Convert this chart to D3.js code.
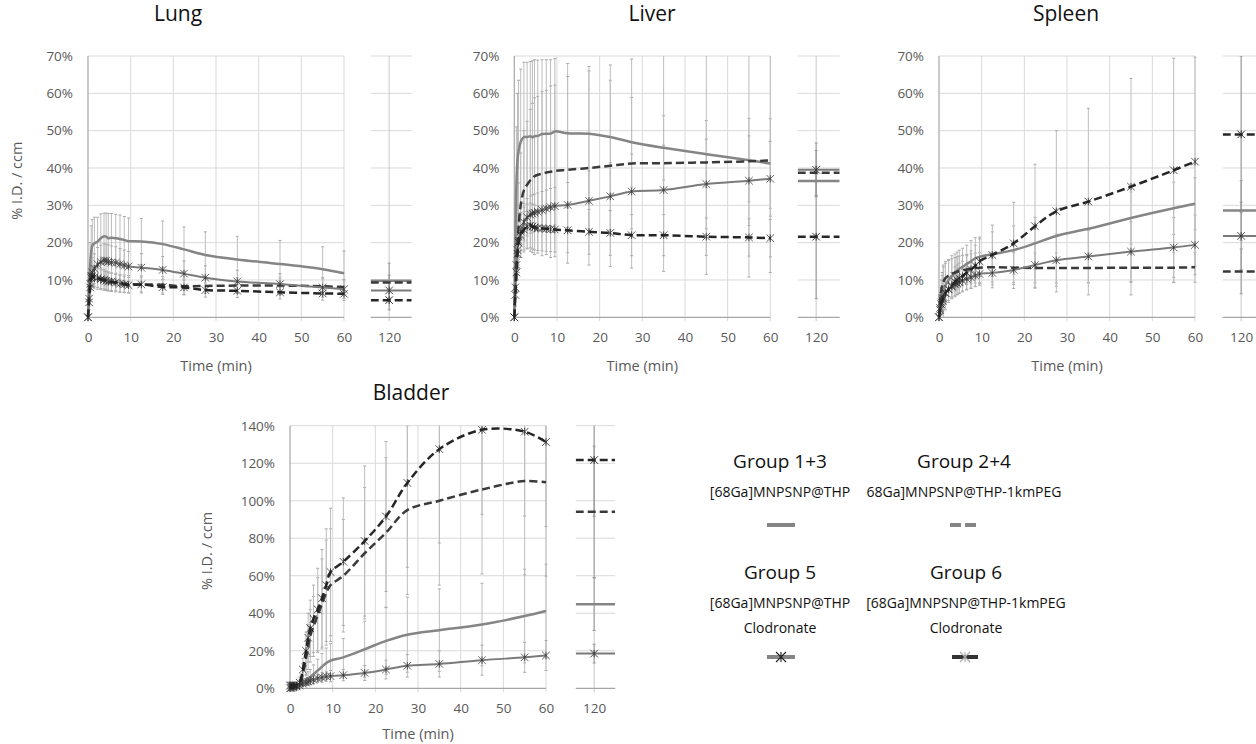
<!DOCTYPE html>
<html><head><meta charset="utf-8">
<script src="https://cdn.jsdelivr.net/npm/d3@7"></script>
<style>body{margin:0;background:#fff}svg{display:block}text{font-family:"Open Sans",sans-serif}</style>
</head><body><svg id="c" width="1256" height="744"></svg>
<script>
// ---------- DATA ----------
const times = [0, 0.25, 0.5, 0.75, 1, 1.5, 2.25, 3, 3.75, 4.25, 4.75, 5.5, 6.5, 7.5, 8.5, 9.5, 12.5, 17.5, 22.5, 27.5, 35, 45, 55, 60];
const xTicks = [0, 10, 20, 30, 40, 50, 60];
const lateTick = [120];
const topYTicks = [0, 10, 20, 30, 40, 50, 60, 70];
const bladderYTicks = [0, 20, 40, 60, 80, 100, 120, 140];
const groupNames = ["Group 1+3", "Group 2+4", "Group 5", "Group 6"];
const groupCompounds = [["[68Ga]MNPSNP@THP"], ["68Ga]MNPSNP@THP-1kmPEG"], ["[68Ga]MNPSNP@THP", "Clodronate"], ["[68Ga]MNPSNP@THP-1kmPEG", "Clodronate"]];

// Lung
const lungG13 = [0, 8, 14, 17.5, 19.2, 19.8, 20.3, 21.2, 21.7, 21.6, 21.2, 21.3, 21.2, 21.0, 20.7, 20.4, 20.3, 19.6, 18.2, 16.7, 15.5, 14.3, 12.9, 11.8];
const lungG13Err = [0, 4, 6, 7, 7, 7, 6.5, 6.5, 6.2, 6.3, 6.6, 6.5, 6.4, 6.4, 6.3, 6.2, 6.2, 6.2, 6, 6.2, 6.2, 6.3, 6, 6];
const lungG24 = [0, 6, 10, 11, 11, 10.8, 10.5, 10.2, 10, 9.8, 9.6, 9.4, 9.3, 9.1, 9.0, 8.9, 8.8, 8.7, 8.3, 8.4, 8.5, 8.5, 8.3, 8.1];
const lungG24Err = [0, 2, 3, 3, 3, 3, 3, 2.8, 2.8, 2.6, 2.6, 2.5, 2.5, 2.4, 2.4, 2.3, 2.3, 2.2, 2.2, 2.1, 2.1, 2.0, 2.0, 2.0];
const lungG5 = [0, 5, 9, 11, 12, 13, 14.2, 14.8, 15.2, 15.1, 14.9, 14.7, 14.6, 14.2, 13.9, 13.6, 13.3, 12.7, 11.7, 10.6, 9.6, 8.9, 8.0, 7.5];
const lungG5Err = [0, 2, 3, 3.5, 4, 4, 4.5, 4.5, 4.5, 4.5, 4.5, 4.4, 4.3, 4.2, 4.1, 4, 3.8, 3.6, 3.4, 3.2, 3, 2.8, 2.6, 2.5];
const lungG6 = [0, 4, 8, 10.5, 11, 10.8, 10.5, 10.2, 10, 9.8, 9.6, 9.5, 9.3, 9.0, 8.8, 8.6, 8.8, 8.1, 8.0, 7.3, 7.1, 6.7, 6.4, 6.3];
const lungG6Err = [0, 2, 2.5, 2.5, 2.5, 2.5, 2.5, 2.5, 2.4, 2.4, 2.3, 2.3, 2.2, 2.2, 2.1, 2.1, 2, 2, 2, 1.9, 1.8, 1.8, 1.8, 1.8];
const lung120 = [9.8, 9.3, 7.2, 4.6];
const lung120Err = [4.7, 2, 2.5, 2.6];

// Liver
const liverG13 = [0, 20, 36, 42, 44.5, 47, 48.3, 48.3, 48.5, 48.2, 48.5, 48.6, 49.1, 49.2, 49.2, 49.8, 49.3, 49.2, 48.3, 46.9, 45.4, 43.7, 42.1, 41.2];
const liverG13Err = [0, 10, 15, 18, 19, 19.5, 20, 20, 20, 20.5, 20.5, 20.3, 19.9, 19.8, 19.8, 19.5, 18.7, 18, 15.2, 12, 8.6, 9, 11.2, 12];
const liverG24 = [0, 8, 15, 20, 24, 30, 34, 35.5, 36.7, 37.3, 37.8, 38.2, 38.5, 38.8, 39.0, 39.2, 39.5, 40.0, 40.6, 41.2, 41.3, 41.5, 41.8, 42.0];
const liverG24Err = [0, 5, 8, 10, 12, 14, 16, 17, 19, 20, 21, 21, 22, 22, 23, 23, 25, 26, 27, 28, 29, 30, 31, 30];
const liverG5 = [0, 8, 14, 18, 20.5, 23, 25.5, 26.8, 27.5, 27.8, 28, 28.3, 28.7, 29.1, 29.5, 29.8, 30.1, 31.2, 32.4, 33.7, 34.1, 35.7, 36.6, 37.1];
const liverG5Err = [0, 3, 4, 5, 5, 5, 5, 5, 5, 5, 5, 5, 5, 5, 5, 5, 6, 8, 9, 10, 12, 12, 12, 10];
const liverG6 = [0, 6, 12, 17, 20, 22, 23.5, 24.3, 24.6, 24.3, 24.1, 23.9, 23.8, 23.7, 23.6, 23.5, 23.3, 22.9, 22.6, 22.0, 22.0, 21.6, 21.4, 21.2];
const liverG6Err = [0, 3, 4, 5, 6, 6, 6, 6, 6, 6, 6, 6, 6, 6, 6, 6, 6, 6, 6, 5.5, 5.5, 5, 5, 5];
const liver120 = [36.5, 38.7, 39.5, 21.6];
const liver120Err = [4, 6, 7.2, 16.6];

// Spleen
const spleenG13 = [0, 3, 5, 6.2, 7, 8.5, 10, 11, 12, 12.5, 13, 13.5, 14.3, 15, 15.8, 16.2, 16.9, 18, 19.8, 21.8, 23.7, 26.6, 29.2, 30.4];
const spleenG13Err = [0, 2, 3, 5, 7, 6.5, 5.5, 5.5, 5, 5, 5, 5, 5, 5.5, 5.5, 5.3, 6, 6.5, 7, 7, 7, 7, 7, 7];
const spleenG24 = [0, 4, 7, 8.5, 9.5, 10.5, 11.2, 11.7, 12, 12.2, 12.4, 12.6, 12.8, 13, 13.2, 13.3, 13.4, 13.3, 13.2, 13.2, 13.2, 13.3, 13.3, 13.4];
const spleenG24Err = [0, 2, 3, 3.5, 4, 4, 4, 4, 4, 4, 4, 4, 4, 4, 4, 4, 4, 4, 4, 4, 4, 4, 4, 4];
const spleenG5 = [0, 2.5, 4, 5, 5.5, 6.5, 7.5, 8.2, 8.8, 9.1, 9.4, 9.8, 10.3, 10.7, 11.2, 11.6, 11.9, 12.7, 14.0, 15.3, 16.3, 17.6, 18.7, 19.4];
const spleenG5Err = [0, 1, 2, 2.5, 3, 3, 3, 3, 3, 3, 3, 3, 3, 3, 3, 3, 4, 5, 6, 7, 7, 8, 8, 8];
const spleenG6 = [0, 2, 3.5, 4.5, 5, 6.5, 7.5, 8.5, 9.5, 10, 10.5, 11, 12, 12.8, 13.8, 15, 16.7, 19.8, 24.4, 28.4, 31, 35, 39.4, 41.7];
const spleenG6Err = [0, 1, 2, 2.5, 3, 3, 3.5, 3.5, 4, 4, 4, 4, 4.5, 5, 5.5, 6, 8, 11, 16.6, 21.6, 25, 29, 30, 28];
const spleen120 = [28.6, 12.3, 21.8, 49];
const spleen120Err = [8, 6, 9, 21];

// Bladder
const bladderG13 = [0, 0.2, 0.4, 0.6, 0.8, 1, 1.5, 3, 4.5, 5.3, 6, 7.5, 9.5, 11.5, 13.5, 14.8, 16.5, 20.8, 25.3, 28.6, 31, 34, 38.5, 41.2];
const bladderG13Err = [0, 0.2, 0.3, 0.4, 0.5, 0.8, 1, 2, 3, 3.5, 4, 5, 6, 7, 8, 9, 10, 15, 18, 20, 22, 22, 25, 25];
const bladderG24 = [1.5, 1.5, 1.5, 1.5, 1.5, 1.5, 2, 8, 16, 22, 28, 33, 39, 45, 51, 55, 60, 72, 83, 95, 100, 106, 110.5, 109.8];
const bladderG24Err = [0.5, 0.5, 0.5, 0.5, 0.5, 1, 2, 5, 9, 12, 14, 16, 20, 24, 28, 30, 30, 35, 40, 45, 45, 45, 50, 50];
const bladderG5 = [0, 0.2, 0.4, 0.6, 0.8, 1, 1.5, 2.5, 3, 3.5, 4, 4.5, 5.3, 5.8, 6.3, 6.5, 7, 8.2, 10, 12, 13, 15, 16.5, 17.5];
const bladderG5Err = [0, 0.2, 0.3, 0.4, 0.5, 0.6, 0.8, 1, 1.5, 1.5, 2, 2, 2, 2.5, 2.5, 3, 3, 4, 5, 6, 7, 8, 8, 8];
const bladderG6 = [1.5, 1.5, 1.5, 1.5, 1.5, 1.5, 3, 10, 20, 27, 32, 37, 42, 48, 55, 62, 67.5, 78.5, 91.6, 109.5, 127.5, 137.8, 136.8, 131.3];
const bladderG6Err = [0.5, 0.5, 0.5, 0.5, 0.5, 1, 3, 6, 10, 13, 15, 18, 22, 26, 30, 34, 34, 40, 40, 45, 50, 45, 45, 45];
const bladder120 = [44.8, 94.1, 18.5, 121.7];
const bladder120Err = [14, 35, 5, 30];

// ---------- STYLE / LAYOUT ----------
const styles = [
  {color: "#858585", width: 2.5, dash: null, marker: false},
  {color: "#3a3a3a", width: 2.5, dash: "8,4", marker: false},
  {color: "#7a7a7a", width: 2, dash: null, marker: true, mcolor: "#333"},
  {color: "#262626", width: 2.5, dash: "8,4", marker: true, mcolor: "#222"}
];
const panels = [
  {id: "lung", title: "Lung", titleX: 178, titleY: 21, left: 88, top: 56, bottom: 317.3, yMax: 70, yTicks: topYTicks,
   p120: 370.7, p120W: 41, yLabelX: 17,
   data: [lungG13, lungG24, lungG5, lungG6], err: [lungG13Err, lungG24Err, lungG5Err, lungG6Err], v120: lung120, e120: lung120Err},
  {id: "liver", title: "Liver", titleX: 652, titleY: 21, left: 514.3, top: 56, bottom: 317.3, yMax: 70, yTicks: topYTicks,
   p120: 797.7, p120W: 42, yLabelX: null,
   data: [liverG13, liverG24, liverG5, liverG6], err: [liverG13Err, liverG24Err, liverG5Err, liverG6Err], v120: liver120, e120: liver120Err},
  {id: "spleen", title: "Spleen", titleX: 1066, titleY: 21, left: 939, top: 56, bottom: 317.3, yMax: 70, yTicks: topYTicks,
   p120: 1222.7, p120W: 45, yLabelX: null,
   data: [spleenG13, spleenG24, spleenG5, spleenG6], err: [spleenG13Err, spleenG24Err, spleenG5Err, spleenG6Err], v120: spleen120, e120: spleen120Err},
  {id: "bladder", title: "Bladder", titleX: 411, titleY: 400, left: 290, top: 425.7, bottom: 688.3, yMax: 140, yTicks: bladderYTicks,
   p120: 575.7, p120W: 39.5, yLabelX: 207,
   data: [bladderG13, bladderG24, bladderG5, bladderG6], err: [bladderG13Err, bladderG24Err, bladderG5Err, bladderG6Err], v120: bladder120, e120: bladder120Err}
];
const PW = 256;
const gridColor = "#d9d9d9", axisColor = "#a6a6a6", tickText = "#595959", errColor = "#bdbdbd";
const tickFont = 13.5;
const starPath = r => `M${-r},${-r}L${r},${r}M${-r},${r}L${r},${-r}M0,${-r}L0,${r}`;

const svg = d3.select("#c");
const defs = svg.append("defs");

panels.forEach(p => {
  const g = svg.append("g");
  const x = d3.scaleLinear().domain([0, 60]).range([p.left, p.left + PW]);
  const x2 = d3.scaleLinear().domain([110, 132.2]).range([p.p120, p.p120 + 41]);
  const y = d3.scaleLinear().domain([0, p.yMax]).range([p.bottom, p.top]);
  const x2r = p.p120 + p.p120W;

  defs.append("clipPath").attr("id", "cm-" + p.id).append("rect")
    .attr("x", p.left - 6).attr("y", p.top).attr("width", PW + 12).attr("height", p.bottom - p.top + 1);
  defs.append("clipPath").attr("id", "cl-" + p.id).append("rect")
    .attr("x", p.p120).attr("y", p.top).attr("width", p.p120W).attr("height", p.bottom - p.top + 1);

  g.append("text").attr("x", p.titleX).attr("y", p.titleY).attr("text-anchor", "middle")
    .attr("font-size", 21).attr("fill", "#111").text(p.title);

  g.append("g").selectAll("line").data(p.yTicks.filter(d => d > 0)).join("line")
    .attr("x1", p.left).attr("x2", p.left + PW).attr("y1", d => y(d)).attr("y2", d => y(d))
    .attr("stroke", gridColor).attr("stroke-width", 1);
  g.append("g").selectAll("line").data(p.yTicks.filter(d => d > 0)).join("line")
    .attr("x1", p.p120).attr("x2", x2r).attr("y1", d => y(d)).attr("y2", d => y(d))
    .attr("stroke", gridColor).attr("stroke-width", 1);
  g.append("g").selectAll("line").data(xTicks.filter(d => d > 0)).join("line")
    .attr("x1", d => x(d)).attr("x2", d => x(d)).attr("y1", p.top).attr("y2", p.bottom + 4)
    .attr("stroke", gridColor).attr("stroke-width", 1);
  g.append("g").selectAll("line").data(lateTick).join("line")
    .attr("x1", d => x2(d)).attr("x2", d => x2(d)).attr("y1", p.top).attr("y2", p.bottom + 4)
    .attr("stroke", "#c8c8c8").attr("stroke-width", 1);

  g.append("line").attr("x1", x(0)).attr("x2", x(0)).attr("y1", p.top).attr("y2", p.bottom + 4)
    .attr("stroke", axisColor).attr("stroke-width", 1.2);
  g.append("line").attr("x1", p.left).attr("x2", p.left + PW).attr("y1", p.bottom).attr("y2", p.bottom)
    .attr("stroke", axisColor).attr("stroke-width", 1.2);
  g.append("line").attr("x1", p.p120).attr("x2", x2r).attr("y1", p.bottom).attr("y2", p.bottom)
    .attr("stroke", axisColor).attr("stroke-width", 1.2);

  const ya = g.append("g").attr("transform", `translate(${p.left},0)`)
    .call(d3.axisLeft(y).tickValues(p.yTicks).tickSize(0).tickPadding(15).tickFormat(d => d + "%"));
  ya.select(".domain").remove();
  ya.selectAll("text").attr("font-family", '"Open Sans",sans-serif').attr("font-size", tickFont).attr("fill", tickText);

  const xa = g.append("g").attr("transform", `translate(0,${p.bottom})`)
    .call(d3.axisBottom(x).tickValues(xTicks).tickSize(0).tickPadding(15.5).tickFormat(d3.format("d")));
  xa.select(".domain").remove();
  xa.selectAll("text").attr("font-family", '"Open Sans",sans-serif').attr("font-size", tickFont).attr("fill", tickText);
  const xa2 = g.append("g").attr("transform", `translate(0,${p.bottom})`)
    .call(d3.axisBottom(x2).tickValues(lateTick).tickSize(0).tickPadding(15.5).tickFormat(d3.format("d")));
  xa2.select(".domain").remove();
  xa2.selectAll("text").attr("font-family", '"Open Sans",sans-serif').attr("font-size", tickFont).attr("fill", tickText);

  g.append("text").attr("x", p.left + PW / 2).attr("y", Math.min(p.bottom + 54, 739)).attr("text-anchor", "middle")
    .attr("font-size", 14.5).attr("fill", tickText).text("Time (min)");
  if (p.yLabelX !== null) {
    const cy = (p.top + p.bottom) / 2 - 6;
    g.append("text").attr("transform", `translate(${p.yLabelX + 5},${cy}) rotate(-90)`).attr("text-anchor", "middle")
      .attr("font-size", 14.5).attr("fill", tickText).text("% I.D. / ccm");
  }

  const eg = g.append("g").attr("clip-path", `url(#cm-${p.id})`);
  p.data.forEach((vals, si) => {
    const errs = p.err[si];
    const pts = vals.map((v, i) => ({t: times[i], v, e: errs[i]})).filter(d => d.e > 0);
    eg.append("g").selectAll("line").data(pts).join("line")
      .attr("x1", d => x(d.t)).attr("x2", d => x(d.t)).attr("y1", d => y(d.v - d.e)).attr("y2", d => y(d.v + d.e))
      .attr("stroke", errColor).attr("stroke-width", 1);
    [-1, 1].forEach(s => {
      eg.append("g").selectAll("line").data(pts).join("line")
        .attr("x1", d => x(d.t) - 1.5).attr("x2", d => x(d.t) + 1.5)
        .attr("y1", d => y(d.v + s * d.e)).attr("y2", d => y(d.v + s * d.e))
        .attr("stroke", "#aaa").attr("stroke-width", 1);
    });
  });
  const eg2 = g.append("g").attr("clip-path", `url(#cl-${p.id})`);
  const late = p.v120.map((v, i) => ({v, e: p.e120[i]}));
  eg2.selectAll("line.eb").data(late).join("line").attr("class", "eb")
    .attr("x1", x2(120)).attr("x2", x2(120)).attr("y1", d => y(d.v - d.e)).attr("y2", d => y(d.v + d.e))
    .attr("stroke", "#9a9a9a").attr("stroke-width", 1);
  [-1, 1].forEach(s => {
    eg2.append("g").selectAll("line").data(late).join("line")
      .attr("x1", x2(120) - 1.5).attr("x2", x2(120) + 1.5).attr("y1", d => y(d.v + s * d.e)).attr("y2", d => y(d.v + s * d.e))
      .attr("stroke", "#999").attr("stroke-width", 1);
  });

  const line = d3.line().x((d, i) => x(times[i])).y(d => y(d)).curve(d3.curveCatmullRom);
  p.data.forEach((vals, si) => {
    const st = styles[si];
    g.append("path").attr("d", line(vals)).attr("fill", "none").attr("stroke", st.color)
      .attr("stroke-width", st.width).attr("stroke-dasharray", st.dash).attr("stroke-linejoin", "round");
  });
  p.data.forEach((vals, si) => {
    const st = styles[si];
    if (!st.marker) return;
    g.append("g").selectAll("path").data(vals).join("path")
      .attr("transform", (d, i) => `translate(${x(times[i])},${y(d)})`).attr("d", starPath(3.8))
      .attr("fill", "none").attr("stroke", st.mcolor).attr("stroke-width", 0.9).attr("opacity", 0.85);
  });

  const lg = g.append("g").attr("clip-path", `url(#cl-${p.id})`);
  late.forEach((d, si) => {
    const st = styles[si];
    lg.append("line").attr("x1", p.p120).attr("x2", x2r).attr("y1", y(d.v)).attr("y2", y(d.v))
      .attr("stroke", st.color).attr("stroke-width", st.width).attr("stroke-dasharray", st.dash);
  });
  late.forEach((d, si) => {
    const st = styles[si];
    if (!st.marker) return;
    g.append("path").attr("transform", `translate(${x2(120)},${y(d.v)})`).attr("d", starPath(3.8))
      .attr("fill", "none").attr("stroke", st.mcolor).attr("stroke-width", 0.9);
  });
});

// ---------- LEGEND ----------
const legendPos = [
  {cx: 780, ty: 468, sy: 525},
  {cx: 964, ty: 468, sy: 525},
  {cx: 780, ty: 579, sy: 657},
  {cx: 966, ty: 579, sy: 657}
];
const lgG = svg.append("g");
groupNames.forEach((name, i) => {
  const lp = legendPos[i];
  lgG.append("text").attr("x", lp.cx).attr("y", lp.ty).attr("text-anchor", "middle")
    .attr("font-size", 19).attr("fill", "#111").text(name);
  groupCompounds[i].forEach((c, j) => {
    lgG.append("text").attr("x", lp.cx).attr("y", lp.ty + 29 + j * 25).attr("text-anchor", "middle")
      .attr("font-size", 14).attr("fill", "#111").text(c);
  });
});
lgG.append("line").attr("x1", 767).attr("x2", 795).attr("y1", 525).attr("y2", 525).attr("stroke", "#858585").attr("stroke-width", 4);
lgG.append("line").attr("x1", 950).attr("x2", 976).attr("y1", 525).attr("y2", 525).attr("stroke", "#858585").attr("stroke-width", 4).attr("stroke-dasharray", "11,4");
lgG.append("line").attr("x1", 767).attr("x2", 795).attr("y1", 657).attr("y2", 657).attr("stroke", "#858585").attr("stroke-width", 4);
lgG.append("path").attr("transform", "translate(781,657)").attr("d", starPath(5)).attr("fill", "none").attr("stroke", "#222").attr("stroke-width", 1.1);
lgG.append("line").attr("x1", 952).attr("x2", 978).attr("y1", 657).attr("y2", 657).attr("stroke", "#333").attr("stroke-width", 4);
lgG.append("path").attr("transform", "translate(965,657)").attr("d", starPath(5)).attr("fill", "none").attr("stroke", "#aaa").attr("stroke-width", 1.1);
</script></body></html>
